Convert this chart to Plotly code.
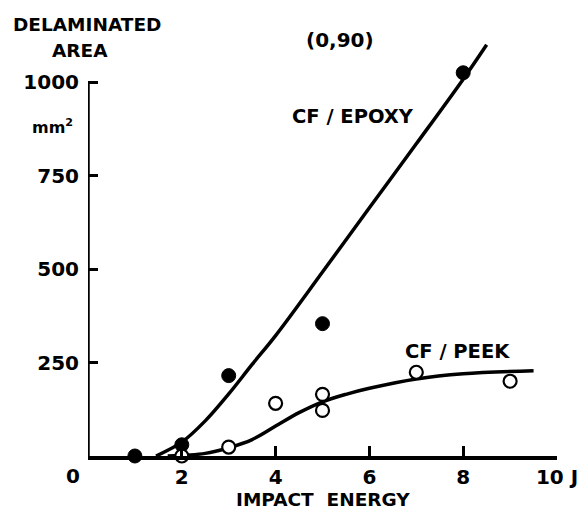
import plotly.graph_objects as go

# Measured points
epoxy_x = [1, 2, 3, 5, 8]
epoxy_y = [0, 30, 215, 354, 1025]
peek_x = [2, 3, 4, 5, 5, 7, 9]
peek_y = [0, 24, 141, 165, 122, 224, 200]

# Hand-drawn trend curves
epoxy_curve_x = [1.45, 2.0, 2.5, 3.0, 3.5, 4.0, 5.0, 6.0, 7.0, 8.0, 8.5]
epoxy_curve_y = [0, 37, 94, 166, 245, 322, 492, 664, 835, 1008, 1100]
peek_curve_x = [1.7, 2.5, 3.0, 3.5, 4.0, 4.5, 5.0, 5.5, 6.0, 7.0, 8.0, 9.5]
peek_curve_y = [0, 7, 22, 44, 80, 116, 145, 165, 181, 206, 220, 228]

x_ticks = [2, 4, 6, 8, 10]
x_ticktext = ["2", "4", "6", "8", "10 J"]
y_ticks = [250, 500, 750, 1000]
y_ticktext = ["250", "500", "750", "1000"]

FONT = "DejaVu Sans"
INK = "black"

fig = go.Figure()

fig.add_trace(go.Scatter(x=epoxy_curve_x, y=epoxy_curve_y, mode="lines",
                         line=dict(color=INK, width=3.5, shape="spline", smoothing=1.0),
                         hoverinfo="skip", showlegend=False))
fig.add_trace(go.Scatter(x=peek_curve_x, y=peek_curve_y, mode="lines",
                         line=dict(color=INK, width=3.5, shape="spline", smoothing=1.0),
                         hoverinfo="skip", showlegend=False))
fig.add_trace(go.Scatter(x=epoxy_x, y=epoxy_y, mode="markers", name="CF / EPOXY",
                         marker=dict(symbol="circle", size=14, color=INK,
                                     line=dict(color=INK, width=1)),
                         cliponaxis=False, showlegend=False))
fig.add_trace(go.Scatter(x=peek_x, y=peek_y, mode="markers", name="CF / PEEK",
                         marker=dict(symbol="circle", size=13, color="white",
                                     line=dict(color=INK, width=2.2)),
                         cliponaxis=False, showlegend=False))

# y-axis line only up to 1000
fig.add_shape(type="line", xref="x", yref="y", x0=0, x1=0, y0=0, y1=1000,
              line=dict(color=INK, width=3.5))

def ann(text, x, y, size=18, **kw):
    fig.add_annotation(text=text, x=x, y=y, xref="paper", yref="paper",
                       showarrow=False, xanchor="center", yanchor="middle",
                       font=dict(family=FONT, size=size, color=INK, weight="bold"), **kw)

ann("DELAMINATED", -0.002, 1.0386, size=18.5)
ann("AREA", -0.017, 0.978, size=18.5)
ann("(0,90)", 0.537, 1.002, size=20)
ann("CF / EPOXY", 0.565, 0.817, size=19.5)
ann("CF / PEEK", 0.787, 0.253, size=19.5)
ann("mm<sup>2</sup>", -0.075, 0.793, size=16)
ann("0", -0.032, -0.048, size=20)
ann("IMPACT  ENERGY", 0.5, -0.106, size=18.5)

fig.update_layout(
    width=581, height=512,
    margin=dict(l=88, r=24, t=41, b=56, pad=0),
    paper_bgcolor="white", plot_bgcolor="white",
    font=dict(family=FONT, color=INK),
    xaxis=dict(range=[0, 10], showgrid=False, zeroline=False,
               showline=True, linecolor=INK, linewidth=3.5,
               ticks="inside", ticklen=10, tickwidth=2.5, tickcolor=INK,
               tickvals=x_ticks, ticktext=x_ticktext, automargin=False,
               tickfont=dict(family=FONT, size=20, color=INK, weight="bold")),
    yaxis=dict(range=[0, 1110], showgrid=False, zeroline=False,
               showline=False,
               ticks="inside", ticklen=10, tickwidth=2.5, tickcolor=INK,
               tickvals=y_ticks, ticktext=y_ticktext, automargin=False,
               ticklabelstandoff=8,
               tickfont=dict(family=FONT, size=20, color=INK, weight="bold")),
)

fig.write_html("out.html", config={"displayModeBar": False},
               post_script="document.body.style.margin='0';")
